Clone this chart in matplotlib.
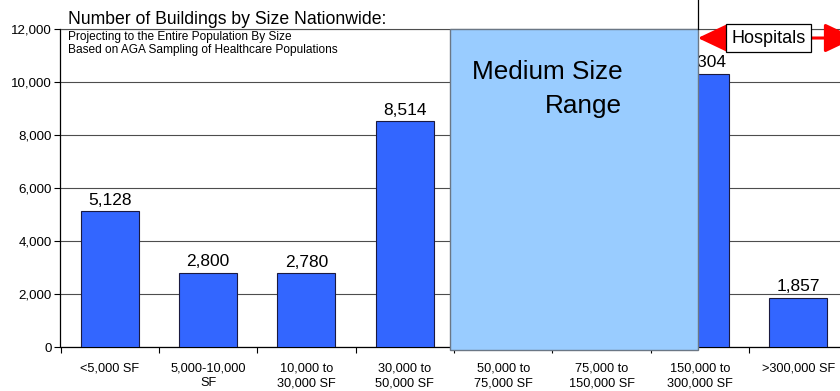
import matplotlib
matplotlib.use("Agg")
import matplotlib.pyplot as plt
from matplotlib.patches import Rectangle, FancyArrowPatch

plt.rcParams['font.family'] = ['Liberation Sans', 'DejaVu Sans']

categories = ["<5,000 SF", "5,000-10,000\nSF", "10,000 to\n30,000 SF", "30,000 to\n50,000 SF",
              "50,000 to\n75,000 SF", "75,000 to\n150,000 SF", "150,000 to\n300,000 SF", ">300,000 SF"]
buildings = [5128, 2800, 2780, 8514, 4200, 3900, 10304, 1857]
yticks = [0, 2000, 4000, 6000, 8000, 10000, 12000]

title = "Number of Buildings by Size Nationwide:"
subtitle = ["Projecting to the Entire Population By Size",
            "Based on AGA Sampling of Healthcare Populations"]
range_label = ["Medium Size", "Range"]
hospital_label = "Hospitals"

W, H = 840, 391
fig = plt.figure(figsize=(W / 100, H / 100), dpi=100)
ax = fig.add_axes([60.5 / W, 1 - 347 / H, 787 / W, 318 / H])

x = list(range(len(categories)))
ax.bar(x, buildings, width=0.59, color="#3366FF", edgecolor="#1a1a40", linewidth=0.8, zorder=3)

for xi, v in zip(x, buildings):
    ax.annotate(f"{v:,}", (xi, v), xytext=(0, 2.5), textcoords="offset points",
                ha="center", va="bottom", fontsize=12.5, zorder=4)

ax.set_xlim(-0.5, len(categories) - 0.5)
ax.set_ylim(0, 12000)
ax.set_yticks(yticks)
ax.set_yticklabels([f"{t:,}" for t in yticks], fontsize=9.6)
ax.tick_params(axis="y", length=4, width=0.8, direction="out", pad=2.5)

ax.set_xticks(x)
ax.set_xticklabels(categories, fontsize=9.2, linespacing=1.25)
ax.tick_params(axis="x", which="major", length=0, pad=11.5)
ax.set_xticks([i - 0.5 for i in range(len(categories) + 1)], minor=True)
ax.tick_params(axis="x", which="minor", length=4, width=0.8, direction="out")

ax.grid(axis="y", color="#4d4d4d", linewidth=0.8, zorder=0)
ax.set_axisbelow(True)
ax.spines["right"].set_visible(False)
ax.spines["top"].set_color("#4d4d4d")
ax.spines["top"].set_linewidth(0.8)
ax.spines["left"].set_linewidth(0.9)
ax.spines["bottom"].set_linewidth(0.9)

# Medium size range overlay box
x0, x1 = 3.458, 5.979
box = Rectangle((x0, -110), x1 - x0, 12110, facecolor="#99CCFF", edgecolor="#6b7785",
                linewidth=1.0, zorder=6, clip_on=False)
ax.add_patch(box)
ax.text(x0 + 0.22, 10110, range_label[0], fontsize=18.8, ha="left", va="baseline", zorder=7)
ax.text(x0 + 1.75, 8830, range_label[1], fontsize=18.8, ha="right", va="baseline", zorder=7)

# divider line above the box
ax.plot([x1, x1], [12000, 13150], color="black", linewidth=0.9, clip_on=False, zorder=7)

# Hospitals double arrow
arrow = FancyArrowPatch((x1, 11660), (7.58, 11660),
                        arrowstyle="<|-|>,head_length=19,head_width=9",
                        mutation_scale=1, color="#FF0000", linewidth=2.2,
                        shrinkA=0, shrinkB=0, clip_on=False, zorder=8)
ax.add_patch(arrow)
ax.text(6.70, 11660, hospital_label, fontsize=13, ha="center", va="center", zorder=9,
        bbox=dict(boxstyle="square,pad=0.3", facecolor="white", edgecolor="black", linewidth=0.9))

fig.text(68 / W, 1 - 23.5 / H, title, fontsize=12.7, ha="left", va="baseline")
fig.text(68 / W, 1 - 40 / H, subtitle[0], fontsize=8.6, ha="left", va="baseline")
fig.text(68 / W, 1 - 53 / H, subtitle[1], fontsize=8.6, ha="left", va="baseline")

fig.savefig("out.png", dpi=100)
